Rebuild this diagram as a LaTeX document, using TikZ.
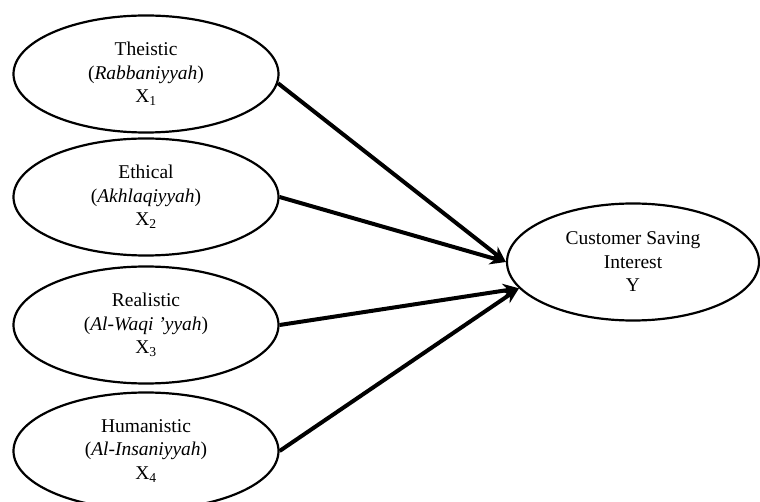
\documentclass[tikz,border=0pt]{standalone}
\usepackage{fontspec}
\setmainfont{Liberation Serif}
\usetikzlibrary{shapes.geometric,arrows.meta}
\begin{document}
\begin{tikzpicture}[x=1pt,y=-1pt,
  latent/.style={ellipse, draw, line width=2.2pt, minimum width=265pt, minimum height=117pt,
    inner sep=0pt, align=center, font=\fontsize{19.5}{23.5}\selectfont},
  link/.style={line width=4pt, -{Stealth[length=16pt,width=14pt]}}]
\useasboundingbox (0,0) rectangle (760,502);
\node[latent] (x1) at (146,74) {Theistic\\(\textit{Rabbaniyyah})\\X\textsubscript{1}};
\node[latent] (x2) at (146,197) {Ethical\\(\textit{Akhlaqiyyah})\\X\textsubscript{2}};
\node[latent] (x3) at (146,325) {Realistic\\(\textit{Al-Waqi 'yyah})\\X\textsubscript{3}};
\node[latent] (x4) at (146,451) {Humanistic\\(\textit{Al-Insaniyyah})\\X\textsubscript{4}};
\node[latent, minimum width=252pt, minimum height=117pt] (y) at (633,262) {Customer Saving\\Interest\\Y};
\draw[link] (x1.-4) -- (y.180);
\draw[link] (x2.east) -- (y.180);
\draw[link] (x3.east) -- (y.193);
\draw[link] (x4.east) -- (y.193);
\end{tikzpicture}
\end{document}
